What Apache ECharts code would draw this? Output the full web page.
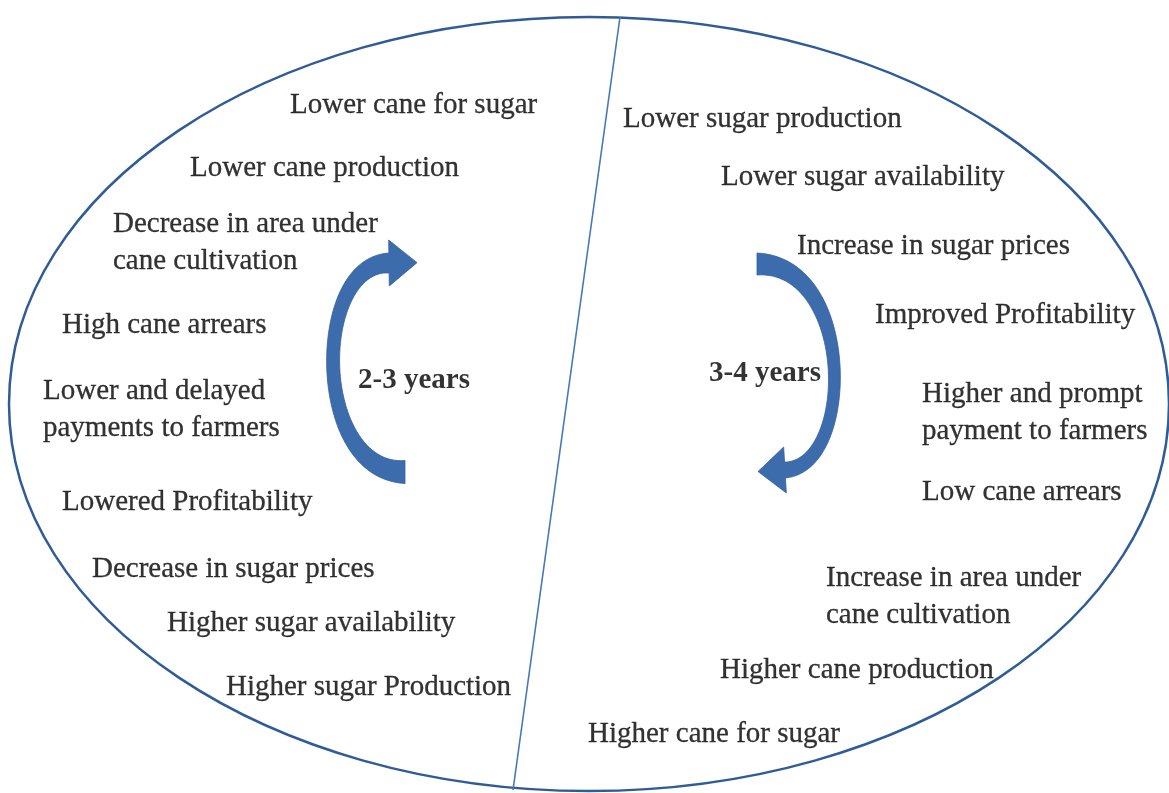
<!DOCTYPE html>
<html>
<head>
<meta charset="utf-8">
<script src="https://cdn.jsdelivr.net/npm/echarts@6/dist/echarts.min.js"></script>
<style>
html,body{margin:0;padding:0;background:#fff;}
#chart{width:1169px;height:793px;}
</style>
</head>
<body>
<div id="chart"></div>
<script>
// ---- text content ----
const leftLabels = [
  'Lower cane for sugar',
  'Lower cane production',
  'Decrease in area under\ncane cultivation',
  'High cane arrears',
  'Lower and delayed\npayments to farmers',
  'Lowered Profitability',
  'Decrease in sugar prices',
  'Higher sugar availability',
  'Higher sugar Production'
];
const rightLabels = [
  'Lower sugar production',
  'Lower sugar availability',
  'Increase in sugar prices',
  'Improved Profitability',
  'Higher and prompt\npayment to farmers',
  'Low cane arrears',
  'Increase in area under\ncane cultivation',
  'Higher cane production',
  'Higher cane for sugar'
];
const cycleLabels = ['2-3 years', '3-4 years'];

// ---- layout (diagram coordinates) ----
const leftX  = [290, 190, 113, 62, 43, 62, 92, 167, 226];
const leftY  = [105, 168, 243, 325, 410, 502, 569, 623, 687];
const rightX = [623, 721, 797, 875, 922, 922, 826, 720, 588];
const rightY = [119, 177, 246, 315, 413, 492, 597, 670, 734];
const cycleX = [414, 765];
const cycleY = [381, 374];

const ellipseShape = [589, 404, 580, 387];      // cx, cy, rx, ry
const dividerLine = [[620, 17], [513, 790]];
// arrows: cubic centre line P0,P1,P2,P3 ; widths tail/mid/head ; head length ; head half-width
const arrowShapes = [
  { p: [[405, 472], [312, 472], [312, 264], [389, 263]], w: [23, 13, 20], hl: 28, hh: 23 },
  { p: [[757, 264], [855, 264], [855, 466], [785, 470]], w: [22, 12, 16], hl: 27, hh: 23 }
];

const W = 1169, H = 793;
const textColor = '#000000';
const lineColor = '#2f5c98';
const arrowColor = '#3d6cac';
const FONT = '"Liberation Serif", "Times New Roman", serif';

function arrowPolygon(a) {
  const [P0, P1, P2, P3] = a.p;
  const [wT, wM, wH] = a.w;
  const N = 60, sideA = [], sideB = [];
  let lastP, lastD, lastN;
  for (let i = 0; i <= N; i++) {
    const t = i / N, u = 1 - t;
    const p = [0, 1].map(k => u * u * u * P0[k] + 3 * u * u * t * P1[k] + 3 * u * t * t * P2[k] + t * t * t * P3[k]);
    let d = [0, 1].map(k => 3 * u * u * (P1[k] - P0[k]) + 6 * u * t * (P2[k] - P1[k]) + 3 * t * t * (P3[k] - P2[k]));
    const L = Math.hypot(d[0], d[1]) || 1; d = [d[0] / L, d[1] / L];
    const n = [-d[1], d[0]];
    const w = wT * (1 - t) * (1 - 2 * t) + wM * 4 * t * (1 - t) + wH * t * (2 * t - 1);
    sideA.push([p[0] + n[0] * w / 2, p[1] + n[1] * w / 2]);
    sideB.push([p[0] - n[0] * w / 2, p[1] - n[1] * w / 2]);
    lastP = p; lastD = d; lastN = n;
  }
  const headA = [lastP[0] + lastN[0] * a.hh, lastP[1] + lastN[1] * a.hh];
  const headB = [lastP[0] - lastN[0] * a.hh, lastP[1] - lastN[1] * a.hh];
  const tip = [lastP[0] + lastD[0] * a.hl, lastP[1] + lastD[1] * a.hl];
  return sideA.concat([headA, tip, headB], sideB.reverse());
}

function labelData(texts, xs, ys) {
  return texts.map((t, i) => ({ value: [xs[i], ys[i]], name: t }));
}

const textStyle = {
  show: true, position: [0, 0], align: 'left', verticalAlign: 'middle',
  formatter: p => p.name, fontFamily: FONT, fontSize: 29, lineHeight: 37,
  color: textColor, textBorderColor: textColor, textBorderWidth: 0.3
};

const chart = echarts.init(document.getElementById('chart'), null, { renderer: 'canvas' });
chart.setOption({
  backgroundColor: '#ffffff',
  animation: false,
  grid: { left: 0, right: 0, top: 0, bottom: 0 },
  xAxis: { type: 'value', min: 0, max: W, show: false },
  yAxis: { type: 'value', min: 0, max: H, inverse: true, show: false },
  series: [
    {
      type: 'custom',
      name: 'frame',
      silent: true,
      data: [ellipseShape],
      renderItem: function (params, api) {
        const c = api.coord([api.value(0), api.value(1)]);
        const r = api.size([api.value(2), api.value(3)]);
        const p0 = api.coord(dividerLine[0]);
        const p1 = api.coord(dividerLine[1]);
        return {
          type: 'group',
          children: [
            { type: 'ellipse', shape: { cx: c[0], cy: c[1], rx: r[0], ry: r[1] },
              style: { fill: null, stroke: lineColor, lineWidth: 2.5 } },
            { type: 'line', shape: { x1: p0[0], y1: p0[1], x2: p1[0], y2: p1[1] },
              style: { stroke: '#4677b6', lineWidth: 1.6 } }
          ]
        };
      }
    },
    {
      type: 'custom',
      name: 'arrows',
      silent: true,
      data: arrowShapes.map((a, i) => [i]),
      renderItem: function (params, api) {
        const pts = arrowPolygon(arrowShapes[params.dataIndex]).map(p => api.coord(p));
        return {
          type: 'polygon',
          shape: { points: pts },
          style: { fill: arrowColor, stroke: '#33609e', lineWidth: 0.8 }
        };
      }
    },
    {
      type: 'scatter',
      name: 'left',
      symbolSize: 0,
      silent: true,
      data: labelData(leftLabels, leftX, leftY),
      label: textStyle
    },
    {
      type: 'scatter',
      name: 'right',
      symbolSize: 0,
      silent: true,
      data: labelData(rightLabels, rightX, rightY),
      label: textStyle
    },
    {
      type: 'scatter',
      name: 'cycle',
      symbolSize: 0,
      silent: true,
      data: labelData(cycleLabels, cycleX, cycleY),
      label: Object.assign({}, textStyle, { align: 'center', fontWeight: 'bold', textBorderWidth: 0 })
    }
  ]
});
</script>
</body>
</html>
